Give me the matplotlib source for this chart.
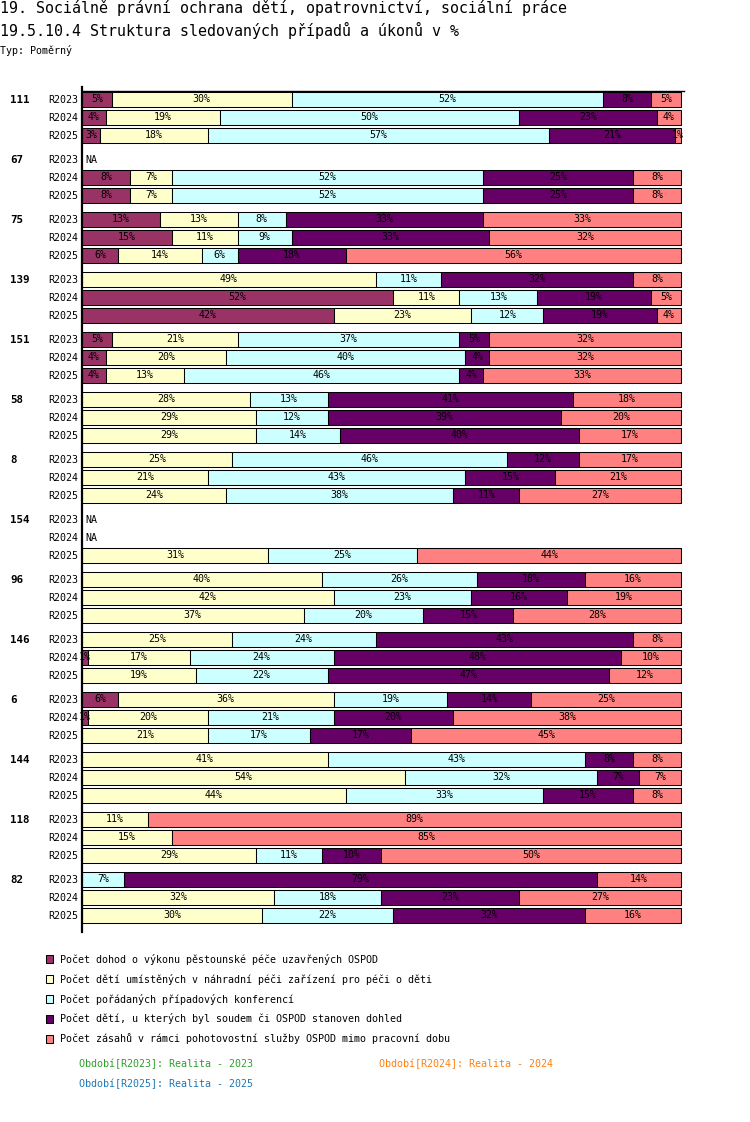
import numpy as np
import matplotlib
matplotlib.use("Agg")
import matplotlib.pyplot as plt
from matplotlib.patches import Rectangle

plt.rcParams['font.family'] = ['DejaVu Sans Mono', 'DejaVu Sans']

# data: shares in % per category (None = NA)
groups = ['111', '67', '75', '139', '151', '58', '8', '154', '96', '146', '6', '144', '118', '82']
periods = ['R2023', 'R2024', 'R2025']
categories = [
    'Počet dohod o výkonu pěstounské péče uzavřených OSPOD',
    'Počet dětí umístěných v náhradní péči zařízení pro péči o děti',
    'Počet pořádaných případových konferencí',
    'Počet dětí, u kterých byl soudem či OSPOD stanoven dohled',
    'Počet zásahů v rámci pohotovostní služby OSPOD mimo pracovní dobu',
]
colors = ['#993366', '#FFFFCC', '#CCFFFF', '#660066', '#FF8080']

v111 = [[5, 30, 52, 8, 5], [4, 19, 50, 23, 4], [3, 18, 57, 21, 1]]
v67 = [None, [8, 7, 52, 25, 8], [8, 7, 52, 25, 8]]
v75 = [[13, 13, 8, 33, 33], [15, 11, 9, 33, 32], [6, 14, 6, 18, 56]]
v139 = [[0, 49, 11, 32, 8], [52, 11, 13, 19, 5], [42, 23, 12, 19, 4]]
v151 = [[5, 21, 37, 5, 32], [4, 20, 40, 4, 32], [4, 13, 46, 4, 33]]
v58 = [[0, 28, 13, 41, 18], [0, 29, 12, 39, 20], [0, 29, 14, 40, 17]]
v8 = [[0, 25, 46, 12, 17], [0, 21, 43, 15, 21], [0, 24, 38, 11, 27]]
v154 = [None, None, [0, 31, 25, 0, 44]]
v96 = [[0, 40, 26, 18, 16], [0, 42, 23, 16, 19], [0, 37, 20, 15, 28]]
v146 = [[0, 25, 24, 43, 8], [1, 17, 24, 48, 10], [0, 19, 22, 47, 12]]
v6 = [[6, 36, 19, 14, 25], [1, 20, 21, 20, 38], [0, 21, 17, 17, 45]]
v144 = [[0, 41, 43, 8, 8], [0, 54, 32, 7, 7], [0, 44, 33, 15, 8]]
v118 = [[0, 11, 0, 0, 89], [0, 15, 0, 0, 85], [0, 29, 11, 10, 50]]
v82 = [[0, 0, 7, 79, 14], [0, 32, 18, 23, 27], [0, 30, 22, 32, 16]]
values = [v111, v67, v75, v139, v151, v58, v8, v154, v96, v146, v6, v144, v118, v82]

period_names = ['Období[R2023]: Realita - 2023', 'Období[R2024]: Realita - 2024',
                'Období[R2025]: Realita - 2025']
period_colors = ['#2ca02c', '#ff7f0e', '#1f77b4']

W, H = 750, 1122
fig = plt.figure(figsize=(W / 100, H / 100), dpi=100)

# background axes in pixel coordinates for texts / legend
bg = fig.add_axes([0, 0, 1, 1])
bg.set_xlim(0, W)
bg.set_ylim(H, 0)
bg.axis('off')

# main plot area: x 82..681 px, y 87..932 px
x0, x1, y0, y1 = 82, 681, 87, 932
ax = fig.add_axes([x0 / W, 1 - y1 / H, (x1 - x0) / W, (y1 - y0) / H])
ax.set_xlim(0, 100)
ax.set_ylim(y1, y0)
for s in ['top', 'right', 'bottom']:
    ax.spines[s].set_visible(False)
ax.spines['left'].set_linewidth(1.6)
ax.spines['left'].set_zorder(5)
ax.set_xticks([])
ax.set_yticks([])
ax.patch.set_alpha(0)

small = 7.2
for g, grp in enumerate(groups):
    for r, per in enumerate(periods):
        yc = 99.5 + 60 * g + 18 * r
        bg.text(78, yc, per, ha='right', va='center', fontsize=small)
        if r == 0:
            bg.text(10, yc, grp, ha='left', va='center', fontsize=small + 0.6, fontweight='bold')
        row = values[g][r]
        if row is None:
            bg.text(85, yc, 'NA', ha='left', va='center', fontsize=small)
            continue
        left = 0
        for c, v in enumerate(row):
            if v == 0:
                continue
            bars = ax.barh(yc, v, left=left, height=15, color=colors[c],
                           edgecolor='black', linewidth=0.75, clip_on=False)
            t = ax.text(left + v / 2, yc, f'{v}%', ha='center', va='center',
                        fontsize=small, color='black')
            t.set_clip_path(bars.patches[0])
            left += v

# top line
bg.plot([82, 684], [91, 91], color='black', lw=1.0)

# titles
bg.text(0, 8, '19. Sociálně právní ochrana dětí, opatrovnictví, sociální práce',
        ha='left', va='center', fontsize=10.8)
bg.text(0, 30, '19.5.10.4 Struktura sledovaných případů a úkonů v %',
        ha='left', va='center', fontsize=10.8)
bg.text(0, 50, 'Typ: Poměrný', ha='left', va='center', fontsize=small)

# legend
for i, (lab, col) in enumerate(zip(categories, colors)):
    ly = 959 + 20 * i
    bg.add_patch(Rectangle((46, ly - 4), 7, 8, facecolor=col, edgecolor='black', lw=0.75))
    bg.text(60, ly, lab, ha='left', va='center', fontsize=small)

bg.text(79, 1064, period_names[0], color=period_colors[0], ha='left', va='center', fontsize=small)
bg.text(379, 1064, period_names[1], color=period_colors[1], ha='left', va='center', fontsize=small)
bg.text(79, 1084, period_names[2], color=period_colors[2], ha='left', va='center', fontsize=small)

fig.savefig('out.png', dpi=100)
